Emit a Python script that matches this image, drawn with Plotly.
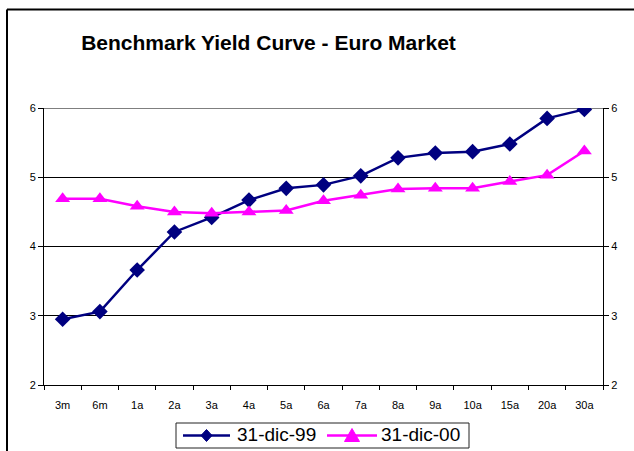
import plotly.graph_objects as go

# Maturities along the curve
maturities = ["3m", "6m", "1a", "2a", "3a", "4a", "5a", "6a", "7a", "8a",
              "9a", "10a", "15a", "20a", "30a"]

# Benchmark yields (%) at the two dates
yield_dic99 = [2.95, 3.06, 3.66, 4.21, 4.42, 4.67, 4.84, 4.89, 5.02, 5.28,
               5.35, 5.37, 5.48, 5.85, 5.98]
yield_dic00 = [4.69, 4.69, 4.58, 4.50, 4.48, 4.50, 4.52, 4.66, 4.74, 4.83,
               4.84, 4.84, 4.94, 5.03, 5.38]

series_names = ["31-dic-99", "31-dic-00"]
series_colors = ["#000080", "#FF00FF"]
y_ticks = [2, 3, 4, 5, 6]

W, H = 634, 451
L, R, T, B = 44, 31, 108, 66
pw, ph = W - L - R, H - T - B


def px_x(x):
    return (x - L) / pw


def px_y(y):
    return (H - B - y) / ph


FONT = "Arial, Liberation Sans, sans-serif"

fig = go.Figure()
fig.add_trace(go.Scatter(
    x=maturities, y=yield_dic99, name=series_names[0], mode="lines+markers",
    line=dict(color=series_colors[0], width=2.5),
    marker=dict(symbol="diamond", size=12, color=series_colors[0]),
))
fig.add_trace(go.Scatter(
    x=maturities, y=yield_dic00, name=series_names[1], mode="lines+markers",
    line=dict(color=series_colors[1], width=2.5),
    marker=dict(symbol="triangle-up", size=13, color=series_colors[1]),
))

axis_common = dict(
    range=[2, 6], tickvals=y_ticks, ticks="outside", ticklen=5,
    tickcolor="black", showline=True, linecolor="black", linewidth=1,
    automargin=False,
    tickfont=dict(family=FONT, size=11, color="black"),
)

fig.update_layout(
    width=W, height=H,
    margin=dict(l=L, r=R, t=T, b=B, autoexpand=False),
    paper_bgcolor="white", plot_bgcolor="white",
    showlegend=False,
    title=dict(
        text="<b>Benchmark Yield Curve - Euro Market</b>",
        x=268.5 / W, xref="container", xanchor="center",
        y=1 - 43 / H, yref="container", yanchor="middle",
        font=dict(family=FONT, size=21, color="black"),
    ),
    xaxis=dict(
        type="category", range=[-0.5, len(maturities) - 0.5],
        tickson="boundaries", ticks="outside", ticklen=4, tickcolor="black",
        showline=True, linecolor="black", linewidth=1, showgrid=False,
        ticklabelstandoff=10, automargin=False,
        tickfont=dict(family=FONT, size=11, color="black"),
    ),
    yaxis=dict(showgrid=True, gridcolor="black", gridwidth=1,
               zeroline=False, **axis_common),
    yaxis2=dict(overlaying="y", side="right", showgrid=False,
                zeroline=False, **axis_common),
)

# Right-hand axis carries the same scale; an invisible trace anchors it
fig.add_trace(go.Scatter(x=maturities, y=yield_dic99, yaxis="y2",
                         mode="lines", line=dict(width=0), opacity=0,
                         showlegend=False, hoverinfo="skip"))

# Gridline along the top of the value range
fig.add_shape(type="line", xref="paper", yref="y", x0=0, x1=1,
              y0=y_ticks[-1], y1=y_ticks[-1],
              line=dict(color="black", width=1), layer="below")

# Chart frame along the top and left edges
fig.add_shape(type="line", xref="paper", yref="paper",
              x0=px_x(7), x1=px_x(W + 5), y0=px_y(9.5), y1=px_y(9.5),
              line=dict(color="black", width=2))
fig.add_shape(type="line", xref="paper", yref="paper",
              x0=px_x(7), x1=px_x(7), y0=px_y(9.5), y1=px_y(H + 5),
              line=dict(color="black", width=2))

# Legend box below the plot
leg_top, leg_bot, leg_mid = 423, 448, 435.5
fig.add_shape(type="rect", xref="paper", yref="paper",
              x0=px_x(176), x1=px_x(469), y0=px_y(leg_top), y1=px_y(leg_bot),
              line=dict(color="#222222", width=1), fillcolor="white")


def path(points):
    return "M " + " L ".join(f"{px_x(a)},{px_y(b)}" for a, b in points) + " Z"


legend_items = [
    # (line start, line end, text left, symbol)
    (183, 230, 235, "diamond"),
    (327, 377, 379, "triangle"),
]
for (x0, x1, tx, sym), name, color in zip(legend_items, series_names,
                                          series_colors):
    fig.add_shape(type="line", xref="paper", yref="paper",
                  x0=px_x(x0), x1=px_x(x1), y0=px_y(leg_mid), y1=px_y(leg_mid),
                  line=dict(color=color, width=2.5))
    cx = (x0 + x1) / 2
    if sym == "diamond":
        pts = [(cx, leg_mid - 6), (cx + 5.5, leg_mid), (cx, leg_mid + 6),
               (cx - 5.5, leg_mid)]
    else:
        pts = [(cx, leg_mid - 7), (cx + 7.5, leg_mid + 6),
               (cx - 7.5, leg_mid + 6)]
    fig.add_shape(type="path", xref="paper", yref="paper", path=path(pts),
                  fillcolor=color, line=dict(color=color, width=1))
    fig.add_annotation(text=name, xref="paper", yref="paper",
                       x=px_x(tx), y=px_y(leg_mid - 1), xanchor="left",
                       yanchor="middle", showarrow=False,
                       font=dict(family=FONT, size=19, color="black"))

fig.write_html("out.html")
